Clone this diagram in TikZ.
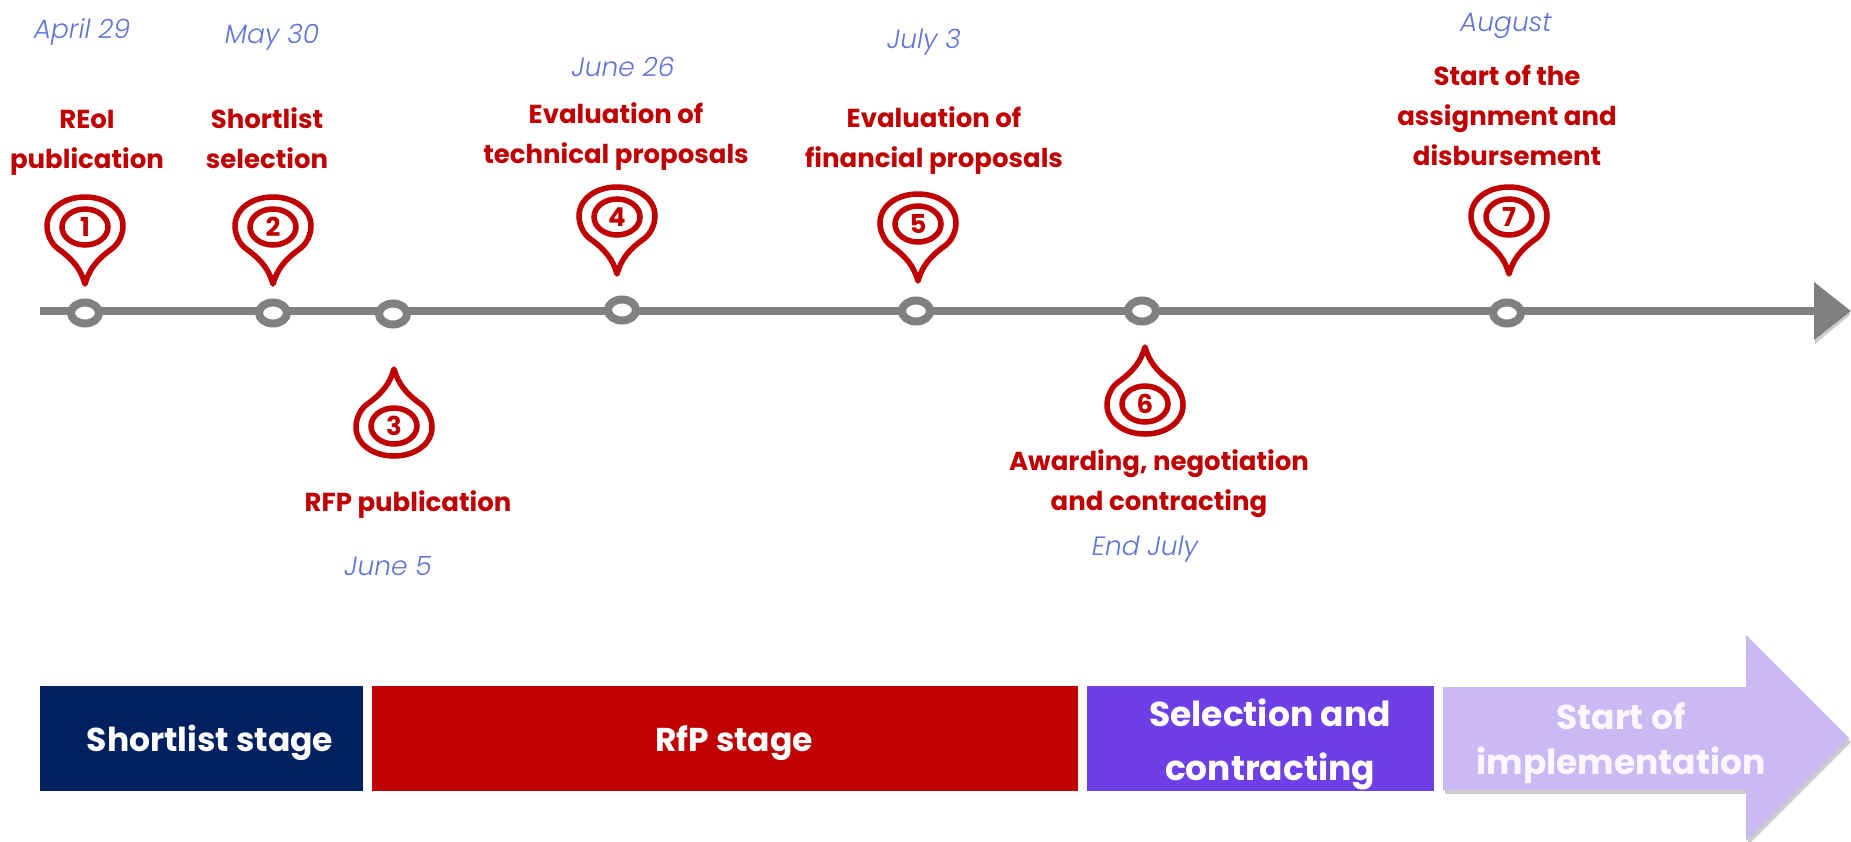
\documentclass[tikz,border=0pt]{standalone}
\usepackage{fontspec}
\setmainfont{Poppins}
\newfontfamily\datefont{Poppins Light}
\usetikzlibrary{shapes.geometric,shapes.arrows,arrows.meta,shadows}
\definecolor{pinred}{HTML}{C00000}
\definecolor{axisgray}{HTML}{808080}
\definecolor{datecolor}{HTML}{5F73D9}
\definecolor{barnavy}{HTML}{002060}
\definecolor{barpurple}{HTML}{6E3EE6}
\definecolor{barlight}{HTML}{CBB9F3}
\tikzset{
  ring/.style={draw=axisgray,line width=8pt,fill=white,ellipse,minimum width=28pt,minimum height=21pt,inner sep=0pt},
  datelabel/.style={text=datecolor,font=\datefont\itshape\fontsize{26.5}{30}\selectfont},
  titlelabel/.style={text=pinred,align=center,font=\bfseries\fontsize{26}{40}\selectfont},
  barlabel/.style={text=white,align=center,font=\bfseries\fontsize{33}{54}\selectfont},
  widelabel/.style={text=white,align=center,font=\bfseries\fontsize{34.5}{#1}\selectfont},
  bar/.style={minimum height=105pt,inner sep=0pt,anchor=west},
  pinmark/.pic={
    \draw[pinred,line width=5.5pt,line join=round,fill=white]
      (0,0) .. controls (-4,-14) and (-11,-24) .. (-28,-36)
      .. controls (-34,-41) and (-38,-50) .. (-38,-58)
      .. controls (-38,-75) and (-21,-87) .. (0,-87)
      .. controls (21,-87) and (38,-75) .. (38,-58)
      .. controls (38,-50) and (34,-41) .. (28,-36)
      .. controls (11,-24) and (4,-14) .. cycle;
    \node[draw=pinred,line width=5.5pt,ellipse,minimum width=46pt,minimum height=36pt,inner sep=0pt,text=pinred,font=\bfseries\fontsize{26}{26}\selectfont] (-num) at (0,-57) {#1};
  },
}
\begin{document}
\begin{tikzpicture}[x=1pt,y=-1pt]
\useasboundingbox (0,0) rectangle (1851,841);
% time line
\coordinate (axisstart) at (40,311);
\coordinate (axisend) at (1851,311);
\fill[black,opacity=.2] (1815,288) -- (1851,314) -- (1815,344) -- cycle;
\draw[axisgray,line width=8pt,-{Triangle[length=37pt,width=56pt]}] (axisstart) -- (axisend);
\node[ring] (ringA) at (85,313) {};
\node[ring] (ringB) at (273,313) {};
\node[ring] (ringC) at (393,314) {};
\node[ring] (ringD) at (622,310) {};
\node[ring] (ringE) at (916,311) {};
\node[ring] (ringF) at (1142,311) {};
\node[ring] (ringG) at (1507,313) {};
% pins
\pic (pinA) at (85,284) {pinmark=1};
\pic (pinB) at (273,284) {pinmark=2};
\pic[yscale=-1] (pinC) at (394,369) {pinmark=3};
\pic (pinD) at (617,274) {pinmark=4};
\pic (pinE) at (918,281) {pinmark=5};
\pic[yscale=-1] (pinF) at (1145,347) {pinmark=6};
\pic (pinG) at (1509,274) {pinmark=7};
% dates
\node[datelabel] (dateA) at (82,32) {April 29};
\node[datelabel] (dateB) at (272,37) {May 30};
\node[datelabel] (dateC) at (388,566) {June 5};
\node[datelabel] (dateD) at (623,67) {June 26};
\node[datelabel] (dateE) at (924,42) {July 3};
\node[datelabel] (dateF) at (1145,549) {End July};
\node[datelabel] (dateG) at (1506,26) {August};
% titles
\node[titlelabel] (titleA) at (87,143) {REoI\\publication};
\node[titlelabel] (titleB) at (267,138) {Shortlist\\selection};
\node[titlelabel] (titleC) at (408,505) {RFP publication};
\node[titlelabel] (titleD) at (616,137) {Evaluation of\\technical proposals};
\node[titlelabel] (titleE) at (934,141) {Evaluation of\\financial proposals};
\node[titlelabel] (titleF) at (1159,484) {Awarding, negotiation\\and contracting};
\node[titlelabel] (titleG) at (1507,115) {Start of the\\assignment and\\disbursement};
% stages
\node[bar,fill=barnavy,minimum width=323pt] (barA) at (40,738) {};
\node[bar,fill=pinred,minimum width=706pt] (barB) at (372,738) {};
\node[bar,fill=barpurple,minimum width=347pt] (barC) at (1087,738) {};
\fill[barlight,drop shadow={shadow xshift=2pt,shadow yshift=-4pt,opacity=.4}]
  (1443,687) -- (1746,687) -- (1746,635) -- (1849,738) -- (1746,841) -- (1746,790) -- (1443,790) -- cycle;
\node[barlabel] (labelA) at (210,743) {Shortlist stage};
\node[barlabel] (labelB) at (734,743) {RfP stage};
\node[widelabel=54] (labelC) at (1270,744) {Selection and\\contracting};
\node[widelabel=45,text=white!90!barlight] (labelD) at (1621,743) {Start of\\implementation};
\end{tikzpicture}
\end{document}
